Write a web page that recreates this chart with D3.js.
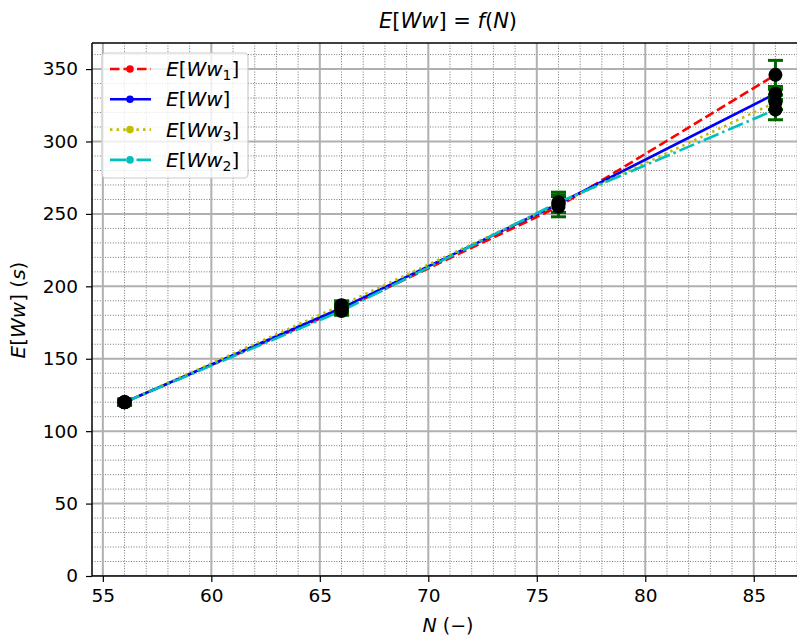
<!DOCTYPE html>
<html><head><meta charset="utf-8">
<script src="https://cdn.jsdelivr.net/npm/d3@7"></script>
<style>body{margin:0;background:#fff}svg{display:block;font-family:"DejaVu Sans",sans-serif}</style>
</head><body><svg id="c" width="797" height="639"></svg>
<script>
const xValues = [56, 66, 76, 86];
const seriesNames = ["Ww1", "Ww", "Ww3", "Ww2"];
const ww1 = [120, 184, 255, 346];
const ww = [120, 185, 257, 333];
const ww3 = [120, 187, 257, 327];
const ww2 = [120, 183, 258, 322];
const err1 = [2, 3, 7, 10];
const errW = [2, 3, 6, 5];
const err3 = [2, 3, 6, 5];
const err2 = [2, 3, 7, 7];
const xMajorTicks = [55, 60, 65, 70, 75, 80, 85];
const yMajorTicks = [0, 50, 100, 150, 200, 250, 300, 350];

const series = [
  {name: "Ww", sub: "1", values: ww1, err: err1, color: "#ff0000", dash: "9.5,4"},
  {name: "Ww", sub: "", values: ww, err: errW, color: "#0000ff", dash: null},
  {name: "Ww", sub: "3", values: ww3, err: err3, color: "#bfbf00", dash: "2.5,4.1"},
  {name: "Ww", sub: "2", values: ww2, err: err2, color: "#00bfbf", dash: "16,4,2.5,4"}
];

const svg = d3.select("#c");
const L = 92, R = 808, T = 43, B = 576;
const x = d3.scaleLinear().domain([54.5, 87.5]).range([L, R]);
const y = d3.scaleLinear().domain([0, 368]).range([B, T]);

svg.append("defs").append("clipPath").attr("id", "clip")
  .append("rect").attr("x", L).attr("y", T).attr("width", R - L).attr("height", B - T);

const grid = svg.append("g").attr("clip-path", "url(#clip)");
const xMinor = d3.range(55, 88, 1).filter(v => v % 5 !== 0);
const yMinor = d3.range(0, 370, 10).filter(v => v % 50 !== 0);
grid.selectAll(".xmin").data(xMinor).join("line")
  .attr("x1", d => x(d)).attr("x2", d => x(d)).attr("y1", T).attr("y2", B)
  .attr("stroke", "#666").attr("stroke-width", 0.9).attr("stroke-dasharray", "1,1.6");
grid.selectAll(".ymin").data(yMinor).join("line")
  .attr("y1", d => y(d)).attr("y2", d => y(d)).attr("x1", L).attr("x2", R)
  .attr("stroke", "#666").attr("stroke-width", 0.9).attr("stroke-dasharray", "1,1.6");
grid.selectAll(".xmaj").data(xMajorTicks).join("line")
  .attr("x1", d => x(d)).attr("x2", d => x(d)).attr("y1", T).attr("y2", B)
  .attr("stroke", "#b0b0b0").attr("stroke-width", 2);
grid.selectAll(".ymaj").data(yMajorTicks).join("line")
  .attr("y1", d => y(d)).attr("y2", d => y(d)).attr("x1", L).attr("x2", R)
  .attr("stroke", "#b0b0b0").attr("stroke-width", 2);

// axes
const xAxis = svg.append("g").attr("transform", `translate(0,${B})`)
  .call(d3.axisBottom(x).tickValues(xMajorTicks).tickSize(6).tickPadding(7).tickFormat(d3.format("d")));
const yAxis = svg.append("g").attr("transform", `translate(${L},0)`)
  .call(d3.axisLeft(y).tickValues(yMajorTicks).tickSize(6).tickPadding(8).tickFormat(d3.format("d")));
[xAxis, yAxis].forEach(a => {
  a.select(".domain").remove();
  a.selectAll("text").attr("font-size", 18.5).attr("fill", "#000").attr("font-family", "DejaVu Sans");
  a.selectAll(".tick line").attr("stroke", "#000").attr("stroke-width", 1.2);
});
svg.append("line").attr("x1", L).attr("x2", L).attr("y1", T).attr("y2", B).attr("stroke", "#000").attr("stroke-width", 1.5);
svg.append("line").attr("x1", L).attr("x2", R).attr("y1", B).attr("y2", B).attr("stroke", "#000").attr("stroke-width", 1.5);
svg.append("line").attr("x1", L).attr("x2", R).attr("y1", T).attr("y2", T).attr("stroke", "#000").attr("stroke-width", 1.5);

// lines
const plot = svg.append("g").attr("clip-path", "url(#clip)");
const line = d3.line().x((d, i) => x(xValues[i])).y(d => y(d));
series.forEach(s => {
  plot.append("path").datum(s.values).attr("d", line)
    .attr("fill", "none").attr("stroke", s.color).attr("stroke-width", 2.6)
    .attr("stroke-dasharray", s.dash);
});
// error bars
series.forEach(s => {
  const g = plot.append("g");
  s.values.forEach((v, i) => {
    const cx = x(xValues[i]);
    const e = s.err[i];
    g.append("line").attr("x1", cx).attr("x2", cx).attr("y1", y(v - e)).attr("y2", y(v + e))
      .attr("stroke", "#006400").attr("stroke-width", 3);
    [v - e, v + e].forEach(c => g.append("line").attr("x1", cx - 7.5).attr("x2", cx + 7.5)
      .attr("y1", y(c)).attr("y2", y(c)).attr("stroke", "#006400").attr("stroke-width", 3));
  });
});
series.forEach(s => {
  plot.append("g").selectAll("circle").data(s.values).join("circle")
    .attr("cx", (d, i) => x(xValues[i])).attr("cy", d => y(d)).attr("r", 7).attr("fill", "#000");
});

// legend
const lg = svg.append("g");
lg.append("rect").attr("x", 102).attr("y", 53).attr("width", 146).attr("height", 125).attr("rx", 4)
  .attr("fill", "#fff").attr("fill-opacity", 0.8).attr("stroke", "#ccc").attr("stroke-width", 1.2);
series.forEach((s, i) => {
  const yy = 69 + i * 30.3;
  lg.append("line").attr("x1", 110).attr("x2", 151).attr("y1", yy).attr("y2", yy)
    .attr("stroke", s.color).attr("stroke-width", 2.6).attr("stroke-dasharray", s.dash);
  lg.append("circle").attr("cx", 130).attr("cy", yy).attr("r", 3.8).attr("fill", s.color);
  const t = lg.append("text").attr("x", 166).attr("y", yy + 7).attr("font-size", 20);
  t.append("tspan").attr("font-style", "italic").text("E");
  t.append("tspan").text("[");
  t.append("tspan").attr("font-style", "italic").text(s.name);
  if (s.sub) t.append("tspan").attr("font-size", 14).attr("dy", 4).text(s.sub);
  t.append("tspan").attr("dy", s.sub ? -4 : 0).text("]");
});

// title
const title = svg.append("text").attr("x", 448).attr("y", 28).attr("text-anchor", "middle").attr("font-size", 21);
title.append("tspan").attr("font-style", "italic").text("E");
title.append("tspan").text("[");
title.append("tspan").attr("font-style", "italic").text("Ww");
title.append("tspan").text("] = ");
title.append("tspan").attr("font-style", "italic").text("f");
title.append("tspan").text("(");
title.append("tspan").attr("font-style", "italic").text("N");
title.append("tspan").text(")");

// x label
const xl = svg.append("text").attr("x", 448).attr("y", 632).attr("text-anchor", "middle").attr("font-size", 19);
xl.append("tspan").attr("font-style", "italic").text("N");
xl.append("tspan").text(" (\u2212)");

// y label
const yl = svg.append("text").attr("transform", "translate(25,310) rotate(-90)").attr("text-anchor", "middle").attr("font-size", 20);
yl.append("tspan").attr("font-style", "italic").text("E");
yl.append("tspan").text("[");
yl.append("tspan").attr("font-style", "italic").text("Ww");
yl.append("tspan").text("] (");
yl.append("tspan").attr("font-style", "italic").text("s");
yl.append("tspan").text(")");
</script></body></html>
